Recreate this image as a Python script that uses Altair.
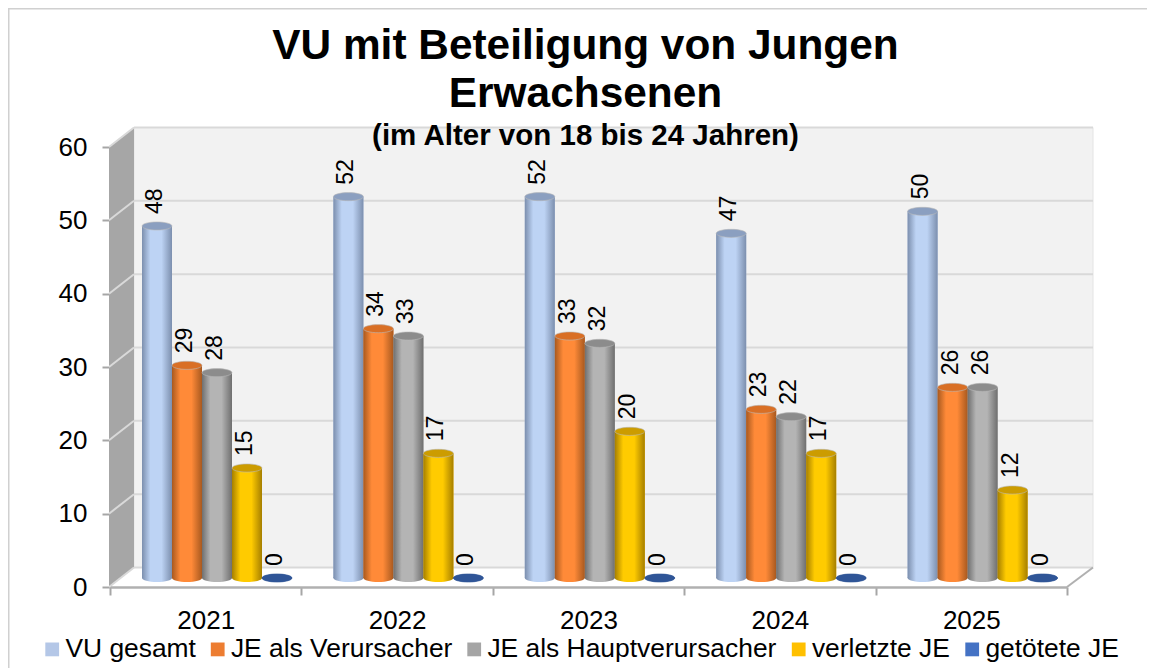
import altair as alt
import pandas as pd

years = ["2021", "2022", "2023", "2024", "2025"]
series = ["VU gesamt", "JE als Verursacher", "JE als Hauptverursacher", "verletzte JE", "getötete JE"]
vu_gesamt = [48, 52, 52, 47, 50]
je_verursacher = [29, 34, 33, 23, 26]
je_haupt = [28, 33, 32, 22, 26]
verletzte = [15, 17, 20, 17, 12]
getoetete = [0, 0, 0, 0, 0]
y_ticks = [0, 10, 20, 30, 40, 50, 60]

legend_colors = ["#b4c7e7", "#ed7d31", "#a5a5a5", "#ffc000", "#4472c4"]
edge_colors = ["#7c8fae", "#a8591f", "#6f6f6f", "#a67f00", "#2f5597"]
mid_colors = ["#bdd3f4", "#ff8a38", "#b4b4b4", "#ffcb00", "#2f5597"]
cap_colors = ["#8b9fc0", "#d96f25", "#8c8c8c", "#cc9c00", "#2f5597"]

FONT = "Liberation Sans"
ELLIPSE = "M-1,0 A1,0.27 0 1,1 1,0 A1,0.27 0 1,1 -1,0 Z"

rows = []
for s, vals in zip(series, [vu_gesamt, je_verursacher, je_haupt, verletzte, getoetete]):
    for yr, v in zip(years, vals):
        rows.append({"year": yr, "series": s, "value": v})
df = pd.DataFrame(rows)
ticks_df = pd.DataFrame({"t": y_ticks})
zero_df = pd.DataFrame({"t": [0]})

W, H = 957, 440
DX, DY = 24, -19.5
BAR_UP = -9
PAD_L, PAD_T = 102, 139

x_enc = alt.X("year:N", sort=years, title=None,
              scale=alt.Scale(paddingInner=0, paddingOuter=0),
              axis=alt.Axis(tickBand="extent", labelAngle=0, labelFont=FONT, labelFontSize=26,
                            labelColor="#000000", labelPadding=12, tickSize=8, tickColor="#a6a6a6",
                            tickWidth=2, domainColor="#b0b0b0", domainWidth=2.5, grid=False))
y_scale = alt.Scale(domain=[0, 60], nice=False)
y_axis = alt.Axis(values=y_ticks, labelFont=FONT, labelFontSize=26, labelColor="#000000",
                  labelPadding=15, tickSize=8, tickColor="#a6a6a6", tickWidth=2,
                  domainColor="#a6a6a6", domainWidth=2, grid=False)
y_enc = alt.Y("value:Q", title=None, scale=y_scale, axis=y_axis)
y_tick_enc = alt.Y("t:Q", title=None, scale=y_scale, axis=y_axis)
y_zero = alt.Y(datum=0, title=None, scale=y_scale, axis=y_axis)
off_enc = alt.XOffset("series:N", sort=series,
                      scale=alt.Scale(domain=series, paddingInner=0, paddingOuter=0.69, range=[11.3, 202.7]))

# picture frame, walls, floor and their lines (decoration in pixel units)
frame_top = alt.Chart(zero_df).mark_rule(color="#d0d0d0", strokeWidth=2).encode(
    x=alt.value(-PAD_L), x2=alt.value(1155 - 16 - PAD_L), y=alt.value(0.5 - PAD_T))
frame_left = alt.Chart(zero_df).mark_rule(color="#d0d0d0", strokeWidth=2).encode(
    x=alt.value(0.5 - PAD_L), y=alt.value(-PAD_T), y2=alt.value(668 - 8 - PAD_T))
wall = alt.Chart(pd.DataFrame({"a": [DX], "b": [W + DX + 2], "c": [DY], "d": [H + DY]})).mark_rect(
    fill="#f2f2f2", stroke="#e4e4e4", strokeWidth=1).encode(
    x=alt.X("a:Q", scale=None), x2="b:Q", y=alt.Y("c:Q", scale=None), y2="d:Q")
side = alt.Chart(pd.DataFrame({"px": [-1, DX], "top": [0, DY], "bot": [H, H + DY]})).mark_area(
    fill="#a6a6a6").encode(x=alt.X("px:Q", scale=None), y=alt.Y("top:Q", scale=None), y2="bot:Q")
grid = alt.Chart(ticks_df).mark_rule(color="#d9d9d9", strokeWidth=2, yOffset=DY).encode(
    x=alt.value(DX), x2=alt.value(W + DX + 2), y=y_tick_enc)
slant = alt.Chart(ticks_df).mark_rule(color="#d9d9d9", strokeWidth=2, y2Offset=DY).encode(
    x=alt.value(-1), x2=alt.value(DX), y=y_tick_enc, y2="t:Q")
slant_r = alt.Chart(zero_df).mark_rule(color="#b0b0b0", strokeWidth=2, y2Offset=DY).encode(
    x=alt.value(W), x2=alt.value(W + DX + 2), y=y_tick_enc, y2="t:Q")

# flat bars carry the legend
flat = alt.Chart(df).mark_bar(yOffset=BAR_UP, y2Offset=BAR_UP).encode(
    x=x_enc, xOffset=off_enc, y=y_enc, y2=alt.datum(0),
    color=alt.Color("series:N", sort=series,
                    scale=alt.Scale(domain=series, range=legend_colors),
                    legend=alt.Legend(title=None, orient="none", legendX=-71, legendY=489, columns=5,
                                      symbolType="square", symbolSize=190, symbolStrokeWidth=0,
                                      labelFont=FONT, labelFontSize=26.4, labelColor="#000000",
                                      labelLimit=400, labelOffset=0, columnPadding=8.5, rowPadding=0)))

layers = [frame_top, frame_left, wall, side, grid, slant, slant_r, flat]

for i, s in enumerate(series):
    d = df[df["series"] == s]
    grad = alt.Gradient(gradient="linear", x1=0, x2=1, y1=0, y2=0, stops=[
        alt.GradientStop(offset=0, color=edge_colors[i]),
        alt.GradientStop(offset=0.28, color=mid_colors[i]),
        alt.GradientStop(offset=0.65, color=mid_colors[i]),
        alt.GradientStop(offset=1, color=edge_colors[i]),
    ])
    base = alt.Chart(d).encode(x=x_enc, xOffset=off_enc)
    bottom = base.mark_point(shape=ELLIPSE, size=900, filled=True, fill=grad, opacity=1,
                             strokeWidth=0, yOffset=BAR_UP).encode(y=y_zero)
    bar = base.mark_bar(fill=grad, yOffset=BAR_UP, y2Offset=BAR_UP).encode(y=y_enc, y2=alt.datum(0))
    cap = base.mark_point(shape=ELLIPSE, size=900, filled=True, fill=cap_colors[i], opacity=1,
                          stroke="#b9b9b9" if i < 4 else cap_colors[i], strokeWidth=0.6,
                          yOffset=BAR_UP).encode(y=y_enc)
    layers += [bottom, bar, cap]

labels = alt.Chart(df).mark_text(angle=270, align="left", baseline="middle", font=FONT, fontSize=23,
                                 color="#000000", dx=21, dy=-2).encode(
    x=x_enc, xOffset=off_enc, y=y_enc, text=alt.Text("value:Q"))
layers.append(labels)

chart = alt.layer(*layers, data=df).properties(
    width=W, height=H,
    padding={"left": PAD_L, "top": PAD_T, "right": 80, "bottom": 81},
    autosize=alt.AutoSizeParams(type="none"),
    title=alt.TitleParams(
        text=["VU mit Beteiligung von Jungen", "Erwachsenen"], font=FONT, fontSize=42.4, fontWeight="bold",
        lineHeight=48, color="#000000", anchor="middle", dx=-3, offset=-144,
        subtitle="(im Alter von 18 bis 24 Jahren)", subtitleFont=FONT, subtitleFontSize=29.5,
        subtitleFontWeight="bold", subtitleColor="#000000", subtitlePadding=5),
).configure_view(stroke=None).configure_axis(labelFlush=False, labelOverlap=False)

chart.save("out.html", embed_options={"renderer": "svg", "actions": False})
